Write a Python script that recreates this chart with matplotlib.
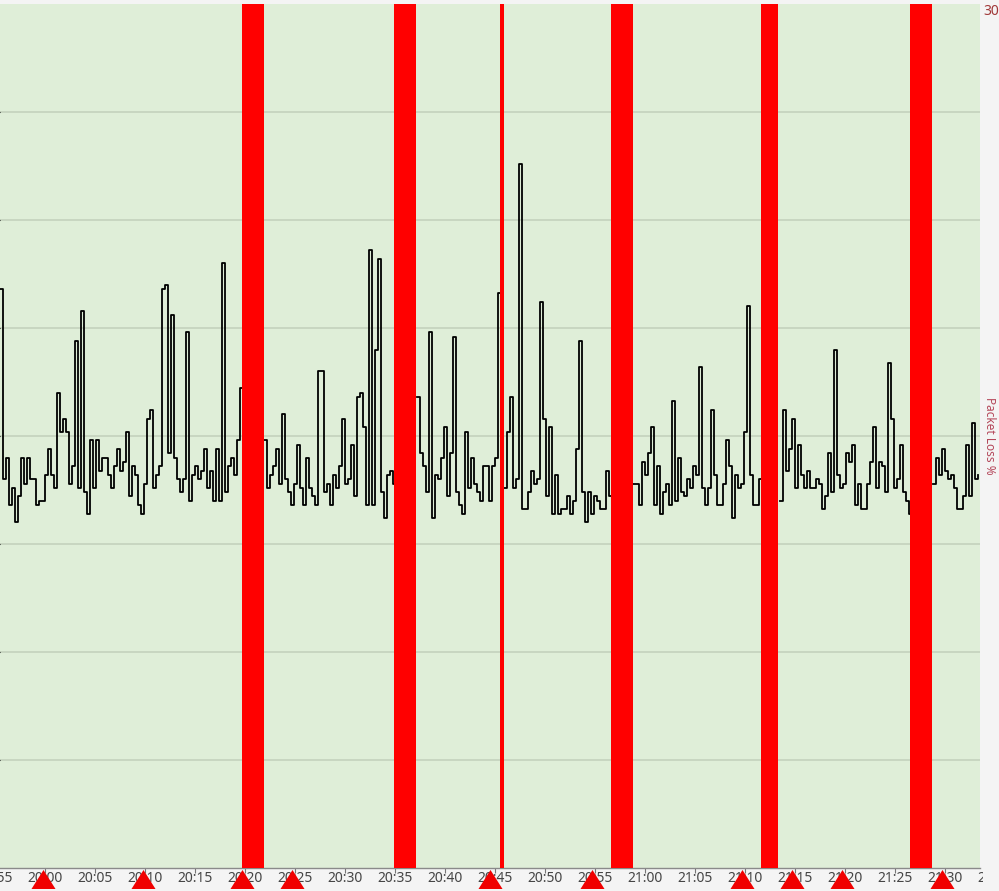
import numpy as np
import pandas as pd
import matplotlib
matplotlib.use("Agg")
import matplotlib.pyplot as plt
import matplotlib.dates as mdates
from matplotlib.transforms import Bbox, blended_transform_factory

# ---------------- data ----------------
DAY = "2024-01-01"
start_time = "19:55:30"
sample_seconds = 18
nan = np.nan
latency_ms = [
    134, 90, 95, 84, 88, 80, 86, 95, 89, 95,
    90, 90, 84, 85, 85, 91, 97, 91, 88, 110,
    101, 104, 101, 89, 93, 122, 88, 129, 87, 82,
    99, 88, 99, 92, 95, 95, 91, 88, 93, 97,
    92, 94, 101, 86, 93, 91, 84, 82, 89, 104,
    106, 88, 91, 93, 134, 135, 96, 128, 95, 90,
    87, 90, 124, 85, 91, 93, 90,
    92, 97, 88, 92, 85, 97, 85, 140, 87, 93,
    95, 91, 99, 111, nan, nan, nan, nan, nan, nan, nan,
    99, 88, 91, 93, 97, 89, 105, 90, 87, 84,
    89, 98, 88, 84, 95, 88, 86, 84, 115, 115,
    87, 89, 84, 91, 88, 93, 104, 89, 90, 98,
    86, 109, 110, 102, 84, 143, 84, 120, 141, 87,
    81, 91, 92, 89,
    nan, nan, nan, nan, nan, nan, nan,
    109, 96, 93, 87, 124, 81, 91, 90, 95, 102,
    86, 96, 123, 87, 84, 82, 101, 88, 95, 89,
    87, 85, 93, 93, 85, 93, 95, 133, nan, 88,
    101, 109, 88, 90, 163, 83, 83, 87, 92, 89,
    90, 131, 104, 86, 102, 82, 91, 82, 83, 83,
    86, 82, 85, 97, 122, 87, 80, 87, 82,
    86, 85, 83, 83, 92, 86, nan, nan, nan, nan, nan, nan, nan,
    89, 89, 84, 94, 91, 96, 102, 84, 93, 82,
    87, 89, 84, 108, 85, 95, 87, 86, 90, 88,
    93, 91, 116, 88, 84, 88, 106, 91, 84, 84,
    89, 99, 93, 81, 91, 88, 89, 101, 130, 91,
    84, 84, 90, nan, nan, nan, nan, nan, nan, 85, 106, 92,
    97, 104, 88, 98, 91, 88, 92, 88, 88, 90,
    89, 83, 86, 96, 87, 120, 91, 88, 89, 96,
    94, 98, 84, 89, 83, 83, 89, 94, 102, 88,
    94, 93, 87, 117, 104, 88, 90, 98, 87, 85,
    82, nan, nan, nan, nan, nan, nan, nan,
    89, 95, 91, 97, 92, 90, 91, 88,
    83, 83, 86, 98, 86, 103, 90, 91,
]
loss_start = ["20:19:42", "20:34:54", "20:45:30", "20:56:36", "21:11:36", "21:26:30"]
loss_end = ["20:21:54", "20:37:06", "20:45:54", "20:58:48", "21:13:18", "21:28:42"]
loss_pct = [100, 100, 100, 100, 100, 100]
event_times = ["19:59:48", "20:09:48", "20:19:42", "20:24:42", "20:44:30",
               "20:54:42", "21:09:42", "21:14:42", "21:19:42", "21:29:42"]
view_start, view_end = "19:55:30", "21:33:30"
latency_max = 200
loss_max = 30

# ---------------- figure ----------------
W, H = 999, 891
AX_L, AX_W, AX_B, AX_H = 0, 980, 23, 864  # pixels
fig = plt.figure(figsize=(W / 100, H / 100), dpi=100, facecolor="#f4f4f4")
ax = fig.add_axes([AX_L / W, AX_B / H, AX_W / W, AX_H / H])
ax.set_facecolor("#dfeed8")

times = pd.date_range(f"{DAY} {start_time}", periods=len(latency_ms),
                      freq=f"{sample_seconds}s")
ax.plot(times, latency_ms, drawstyle="steps-post", color="black", lw=1.3,
        zorder=3)
ax.set_ylim(0, latency_max)
ax.set_yticks(np.arange(25, latency_max, 25))
ax.yaxis.grid(True, color="#c8d6c1", lw=1.4)
ax.set_axisbelow(True)
ax.tick_params(axis="y", left=False, labelleft=False)
t0 = pd.Timestamp(f"{DAY} {view_start}")
t1 = pd.Timestamp(f"{DAY} {view_end}")
ax.set_xlim(t0, t1)
for s in ("top", "left", "right"):
    ax.spines[s].set_visible(False)
ax.spines["bottom"].set_color("#8a8a8a")
ax.spines["bottom"].set_linewidth(1.0)
ax.xaxis.set_major_locator(mdates.MinuteLocator(byminute=range(0, 60, 5)))
ax.xaxis.set_major_formatter(mdates.DateFormatter("%H:%M"))
ax.tick_params(axis="x", length=3.5, width=0.8, color="#777777",
               labelbottom=False)

# helper axis (same time scale, wider) so partly visible edge labels appear
EXT = 60  # px each side
span = (t1 - t0) / AX_W * EXT
axl = fig.add_axes([(AX_L - EXT) / W, AX_B / H, (AX_W + 2 * EXT) / W, AX_H / H])
axl.patch.set_visible(False)
for s in axl.spines.values():
    s.set_visible(False)
axl.set_xlim(t0 - span, t1 + span)
axl.set_yticks([])
axl.xaxis.set_major_locator(mdates.MinuteLocator(byminute=range(0, 60, 5)))
axl.xaxis.set_major_formatter(mdates.DateFormatter("%H:%M"))
axl.tick_params(axis="x", length=0, pad=2.0, labelsize=10, labelcolor="#454545")
for lbl in axl.get_xticklabels():
    lbl.set_fontfamily("Noto Sans")

# ---------------- packet loss axis ----------------
ax2 = ax.twinx()
ax2.set_ylim(0, loss_max)
ls_num = mdates.date2num(pd.to_datetime([f"{DAY} {t}" for t in loss_start]))
le_num = mdates.date2num(pd.to_datetime([f"{DAY} {t}" for t in loss_end]))
ax2.bar(ls_num, loss_pct, width=le_num - ls_num, align="edge",
        color="#ff0000", edgecolor="none", zorder=2)
ax2.set_xlim(ax.get_xlim())
for s in ("top", "left", "right", "bottom"):
    ax2.spines[s].set_visible(False)
ax2.set_yticks([loss_max])
ax2.tick_params(axis="y", length=0, pad=2.5, labelsize=10, labelcolor="#a03838")
for lbl in ax2.get_yticklabels():
    lbl.set_va("top")
    lbl.set_fontfamily("Noto Sans")
ax2.set_ylabel("Packet Loss %", rotation=-90, color="#b4475a", fontsize=8.5,
               family="Noto Sans")
ax2.yaxis.set_label_coords(989 / AX_W, 0.5)
ax2.yaxis.label.set_va("center")
ax2.yaxis.label.set_ha("center")

# event markers (red triangles under the axis)
ev = mdates.date2num(pd.to_datetime([f"{DAY} {t}" for t in event_times]))
trans = blended_transform_factory(ax2.transData, ax2.transAxes)
tri = [(-1, -0.79), (1, -0.79), (0, 0.79)]
ax2.plot(ev, [-0.0122] * len(ev), transform=trans, ls="none", marker=tri,
         ms=17.3, color="#f00000", mec="none", clip_on=False, zorder=10)

# clip labels to the visible strip like the reference
fig.canvas.draw()
clip = Bbox([[0, 0], [983, H]])
for lbl in axl.get_xticklabels():
    lbl.set_clip_on(True)
    lbl.set_clip_box(clip)

fig.savefig("out.png", dpi=100, facecolor=fig.get_facecolor())
